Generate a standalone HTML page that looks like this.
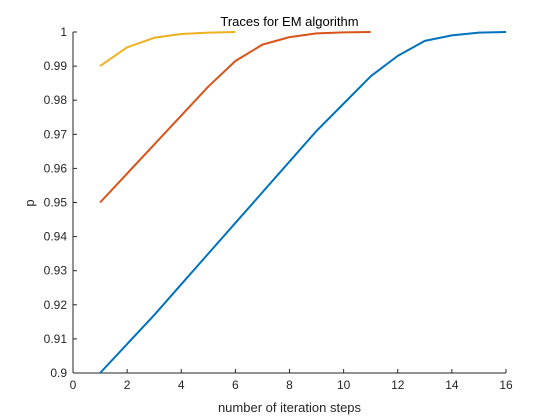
<!DOCTYPE html>
<html><head><meta charset="utf-8"><style>
body{margin:0;background:#fff;}
svg{display:block;font-family:"Liberation Sans",sans-serif;}
</style></head><body>
<svg id="chart" width="560" height="420">
<rect width="560" height="420" fill="#ffffff"/>
<rect id="plotbg" x="73" y="32" width="433" height="341" fill="#ffffff"/>
<g id="axes"></g>
<g id="series"></g>
<text x="289.5" y="26" text-anchor="middle" font-size="13" fill="#000">Traces for EM algorithm</text>
<text x="289.5" y="412" text-anchor="middle" font-size="13" fill="#262626">number of iteration steps</text>
<text transform="translate(34,203) rotate(-90)" text-anchor="middle" font-size="13" fill="#262626">p</text>
</svg>
<script>
const xTicks=[0,2,4,6,8,10,12,14,16];
const yTicks=[0.9,0.91,0.92,0.93,0.94,0.95,0.96,0.97,0.98,0.99,1];
const yTickLabels=["0.9","0.91","0.92","0.93","0.94","0.95","0.96","0.97","0.98","0.99","1"];
const seriesBlue=[0.900,0.9085,0.917,0.926,0.935,0.944,0.953,0.962,0.971,0.979,0.987,0.993,0.9974,0.999,0.9998,1.0];
const seriesRed=[0.950,0.9585,0.967,0.9755,0.984,0.9915,0.9963,0.9985,0.9996,0.9999,1.0];
const seriesYellow=[0.990,0.9955,0.9983,0.9994,0.9998,1.0];
const L=73,R=506,T=32,B=373;
const xs=v=>L+(v-0)/(16-0)*(R-L);
const ys=v=>B-(v-0.9)/(1-0.9)*(B-T);
const NS="http://www.w3.org/2000/svg";
const ax=document.getElementById('axes');
function mk(t,a,p){const e=document.createElementNS(NS,t);for(const k in a)e.setAttribute(k,a[k]);p.appendChild(e);return e;}
let e=mk('line',{x1:L,y1:B,x2:R,y2:B,stroke:'#262626','stroke-width':1},ax);


e=mk('line',{x1:L,y1:T,x2:L,y2:B,stroke:'#262626','stroke-width':1},ax);


xTicks.forEach(v=>{
 const x=xs(v);
 mk('line',{x1:x,y1:B,x2:x,y2:B-4,stroke:'#262626'},ax);
 const t=mk('text',{x:x,y:B+16,'text-anchor':'middle','font-size':12,fill:'#262626'},ax);
 t.textContent=v;
 
 
});
yTicks.forEach((v,i)=>{
 const y=ys(v);
 mk('line',{x1:L,y1:y,x2:L+4,y2:y,stroke:'#262626'},ax);
 const t=mk('text',{x:L-6,y:y+4,'text-anchor':'end','font-size':12,fill:'#262626'},ax);
 t.textContent=yTickLabels[i];
 
 
});
const sg=document.getElementById('series');
[[seriesBlue,'#0072bd','series-blue'],[seriesRed,'#d95319','series-red'],[seriesYellow,'#edb120','series-yellow']].forEach(([d,c,n])=>{
 const pts=d.map((v,i)=>xs(i+1)+','+ys(v)).join(' ');
 const p=mk('polyline',{points:pts,fill:'none',stroke:c,'stroke-width':2,'stroke-linejoin':'round'},sg);
 
 
});
</script>
</body></html>
